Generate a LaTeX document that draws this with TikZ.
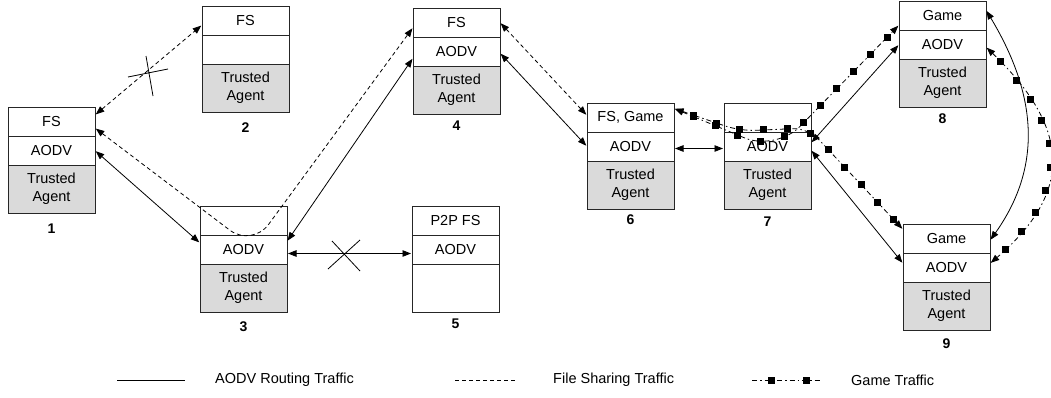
\documentclass[tikz,border=0pt]{standalone}
\usepackage{fontspec}
\setmainfont{Liberation Sans}
\usetikzlibrary{arrows.meta,decorations.markings}
\definecolor{taGray}{RGB}{218,218,218}
\tikzset{
  box/.style={draw=black!85, line width=0.8pt, minimum width=87pt, inner sep=0pt, outer sep=0pt,
    anchor=north west, align=center, font=\fontsize{14.5}{18}\selectfont, fill=white},
  rowa/.style={box, minimum height=29pt},
  rowc/.style={box, minimum height=48pt},
  ta/.style={rowc, fill=taGray},
  num/.style={font=\fontsize{14}{16}\selectfont\bfseries, inner sep=0pt},
  legtext/.style={anchor=west, inner sep=0pt, font=\fontsize{14.5}{16}\selectfont},
  link/.style={line width=0.8pt, {Triangle[length=8.5pt,width=6.5pt]}-{Triangle[length=8.5pt,width=6.5pt]},
    shorten <=1pt, shorten >=1pt},
  aodv/.style={link},
  fsl/.style={link, dash pattern=on 4pt off 3pt},
  gamedash/.style={dash pattern=on 5pt off 3pt on 1.5pt off 3pt},
  game/.style={link, gamedash, postaction={decorate, decoration={markings,
    mark=between positions 21pt and -12pt step 24pt with {\pgftransformresetnontranslations
      \fill[sharp corners, solid] (-3.5pt,-3.5pt) rectangle (3.5pt,3.5pt);}}}},
  xmark/.style={line width=0.8pt},
}
\newcommand\stk[9]{%
  \node[rowa] (#1a) at (#2,#3) {#4};
  \node[rowa] (#1b) at (#1a.south west) {#5};
  \node[#6] (#1c) at (#1b.south west) {#7};
  \node[num] (#1n) at ([yshift=-#9pt]#1c.south) {#8};
}
\begin{document}
\begin{tikzpicture}[x=1pt, y=-1pt]
\useasboundingbox (0,0) rectangle (1051,397);
% nodes
\stk{n1}{8}{107}{FS}{AODV}{ta}{Trusted\\Agent}{1}{16}
\stk{n2}{202}{6}{FS}{}{ta}{Trusted\\Agent}{2}{16}
\stk{n3}{200}{206}{}{AODV}{ta}{Trusted\\Agent}{3}{15}
\stk{n4}{413}{8}{FS}{AODV}{ta}{Trusted\\Agent}{4}{12}
\stk{n5}{412}{206}{P2P FS}{AODV}{rowc}{}{5}{12}
\stk{n6}{587}{103}{FS, Game}{AODV}{ta}{Trusted\\Agent}{6}{11}
\stk{n7}{724}{103}{}{AODV}{ta}{Trusted\\Agent}{7}{13}
\stk{n8}{899}{1}{Game}{AODV}{ta}{Trusted\\Agent}{8}{12}
\stk{n9}{903}{224}{Game}{AODV}{ta}{Trusted\\Agent}{9}{14}
% file sharing links
\draw[fsl] ([yshift=6.5pt]n1a.east) -- ([yshift=-4.5pt]n2a.west);
\draw[xmark] (128,77) -- (168,69) (146,56) -- (153,96);
\draw[fsl, rounded corners=28pt] ([yshift=-6.5pt]n1a.east) -- (252,247) -- ([yshift=-5pt]n4a.west);
\draw[fsl] (n4a.east) -- ([yshift=2pt]n6a.west);
% AODV links
\draw[aodv] (n1b.east) -- ([yshift=6.5pt]n3b.west);
\draw[aodv] ([yshift=8pt]n3b.east) -- ([yshift=-6.5pt]n4b.west);
\draw[aodv] ([yshift=-4pt]n3b.east) -- ([yshift=-4pt]n5b.west);
\draw[xmark] (328,269) -- (360,240) (332,241) -- (360,271);
\draw[aodv] ([yshift=-1.5pt]n4b.east) -- (n6b.west);
\draw[aodv] ([yshift=-2pt]n6b.east) -- ([yshift=-2pt]n6b.east -| n7b.west);
\draw[aodv] ([yshift=3.5pt]n7b.east) -- (n8b.west);
\draw[aodv] ([yshift=-3.5pt]n7b.east) -- ([yshift=4pt]n9b.west);
\draw[aodv] ([yshift=5.5pt]n8a.east) .. controls (1040,100) and (1040,170) .. ([yshift=-2pt]n9a.east);
% game links
\draw[game, rounded corners=34pt] ([yshift=9pt]n6a.east) -- (776,151) -- ([yshift=-9.5pt]n8a.west);
\draw[game, rounded corners=15pt] ([yshift=9pt]n6a.east) -- (740,131) -- (808,128) -- ([yshift=9pt]n9a.west);
\draw[game] ([yshift=-2.5pt]n8b.east) .. controls (1072,130) and (1072,193) .. ([yshift=4pt]n9b.east);
% legend
\coordinate (l1a) at (117,380); \coordinate (l1b) at (185,380);
\draw[line width=0.8pt] (l1a) -- (l1b);
\node[legtext] (lt1) at (215,380) {AODV Routing Traffic};
\coordinate (l2a) at (455,380); \coordinate (l2b) at (517,380);
\draw[line width=0.8pt, dash pattern=on 4pt off 3pt] (l2a) -- (l2b);
\node[legtext] (lt2) at (553,380) {File Sharing Traffic};
\coordinate (l3a) at (752,380); \coordinate (l3b) at (822,380);
\draw[line width=0.8pt, gamedash] (l3a) -- (l3b);
\fill (767.5,376.5) rectangle (774.5,383.5);
\fill (802.5,376.5) rectangle (809.5,383.5);
\node[legtext] (lt3) at (851,380) {Game Traffic};
\end{tikzpicture}
\end{document}
